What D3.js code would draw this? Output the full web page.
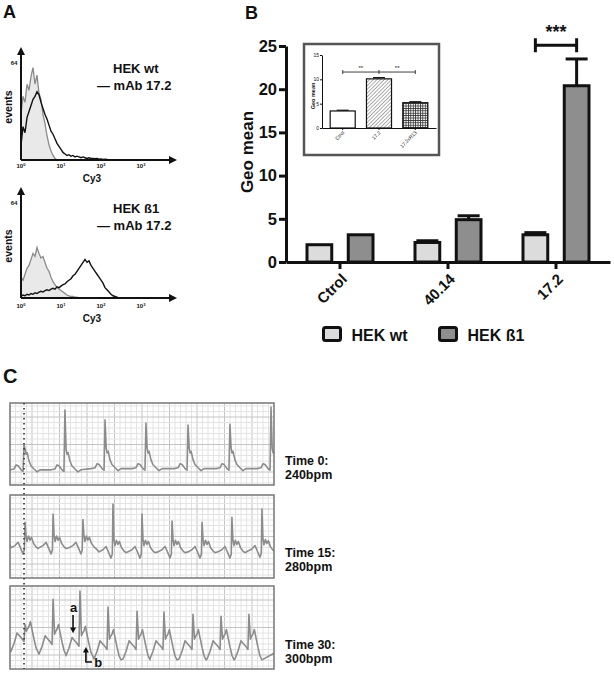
<!DOCTYPE html>
<html><head><meta charset="utf-8">
<script src="https://cdn.jsdelivr.net/npm/d3@7"></script>
<style>body{margin:0;background:#fff} svg{display:block}</style>
</head><body><svg id="fig" width="614" height="673"></svg>
<script>
// ---------------- DATA ----------------
// Panel A: flow cytometry histograms (counts per 0.05-decade bin, starting at 10^0)
const histBinDecades = 0.05;
const histTopIsotype = [30,42,38,50,46,55,61,50,56,44,40,30,24,16,10,6,3,1,0];
const histTopAb = [10,22,18,28,32,36,40,42,45,43,38,34,30,27,23,19,17,14,11,9,7,5,4,3,3.5,2.5,3,2,2.5,2,1.5,2,1.5,1,1.5,1,1,0.8,1,0.5,0.7,0.4,0.5,0.3,0];
const histBotIsotype = [14,12,16,20,22,26,30,28,34,30,27,28,24,20,18,14,11,9,7,6,5,4,3,2,1.5,1,1,0.5,0.5,0];
const histBotAb = [1,2,1.5,2.5,2,3,2.5,3.5,3,4,4.5,4,5,5.5,5,6,6.5,6,7.5,7,8,9,9.5,11,12,13,15,16,18,20,22,24,26,24,25,22,20,18,16,14,12,10,7,5.5,4,2.5,1.5,1,0.5,0];
const histTickDecades = [0,1,2,3];

// Panel B: main bar chart
const categories = ["Ctrol","40.14","17.2"];
const seriesNames = ["HEK wt","HEK ß1"];
const wtValues = [2.0, 2.26, 3.15];
const wtErrors = [0, 0.2, 0.25];
const b1Values = [3.15, 4.9, 20.4];
const b1Errors = [0, 0.45, 3.1];
const yTicks = [0,5,10,15,20,25];
const sigLevel = 25.1;

// Panel B inset
const insetCategories = ["Ctrol","17.2","17.2xR13"];
const insetValues = [3.5, 10.1, 5.2];
const insetErrors = [0.15, 0.25, 0.2];
const insetTicks = [0,5,10,15];
const insetSigLevel = 11.5;

// Panel C: ECG traces (time s, voltage mV); template [dt, v] with null = R peak
const ecgLabels = [["Time 0:","240bpm"],["Time 15:","280bpm"],["Time 30:","300bpm"]];
const ecgBeats0 = [0.085,0.333,0.576,0.824,1.079,1.333,1.582];
const ecgPeaks0 = [0.58,1.43,1.19,1.11,1.06,1.08,1.5];
const ecgBases0 = [-0.03,-0.03,0,0,0,0,0];
const ecgTpl0 = [[-0.085,0],[-0.061,0.02],[-0.048,0.12],[-0.036,0.1],[-0.018,0],[-0.006,-0.04],[0,null],[0.007,0.5],[0.013,0.38],[0.019,0.42],[0.03,0.22],[0.042,0.1],[0.061,0.02],[0.079,-0.05],[0.097,0]];
const ecgEnds0 = [[0,-0.03],[1.6,0]];

const ecgBeats1 = [0.091,0.261,0.442,0.624,0.8,0.982,1.164,1.345,1.527];
const ecgPeaks1 = [0.64,0.84,0.71,1.08,0.84,0.67,0.64,0.76,0.96];
const ecgBases1 = [0.03,0.03,0.03,-0.07,-0.07,-0.07,-0.07,-0.07,-0.05];
const ecgTpl1 = [[-0.085,0],[-0.061,0.05],[-0.042,0.13],[-0.03,0.02],[-0.012,-0.15],[-0.004,-0.05],[0,null],[0.006,0.3],[0.012,0.15],[0.021,0.28],[0.03,0.18],[0.039,0.25],[0.052,0.1],[0.067,0.02],[0.079,-0.02]];
const ecgEnds1 = [[0,0.1],[1.6,-0.05]];

const ecgBeats2 = [0.091,0.261,0.424,0.594,0.77,0.933,1.109,1.279,1.448];
const ecgPeaks2 = [0.77,1.38,1.58,1.19,1.09,1.07,1.02,0.97,1.02];
const ecgBases2 = [0.11,0.04,0,-0.08,-0.08,-0.08,-0.08,-0.08,-0.08];
const ecgTpl2 = [[-0.085,0.02],[-0.067,0.2],[-0.048,0.46],[-0.036,0.4],[-0.018,0.32],[-0.006,0.25],[0,null],[0.009,0.5],[0.015,0.56],[0.024,0.62],[0.033,0.73],[0.042,0.55],[0.055,0.3],[0.067,0.1],[0.079,0]];
const ecgEnds2 = [[0,0.12],[1.6,0.08]];

// ---------------- DRAW ----------------
const FONT = '"Liberation Sans", Arial, Helvetica, sans-serif';
const svg = d3.select("#fig").attr("font-family", FONT);
svg.append("rect").attr("width",614).attr("height",673).attr("fill","#fff");
const defs = svg.append("defs");

function label(g, x, y, txt, size, opts={}) {
  const t = g.append("text").attr("x",x).attr("y",y).text(txt)
    .attr("font-size",size).attr("font-weight", opts.weight||"bold")
    .attr("fill", opts.fill||"#111").attr("text-anchor", opts.anchor||"start");
  if (opts.rotate!==undefined) t.attr("transform",`rotate(${opts.rotate},${x},${y})`);
  return t;
}

// Panel labels
label(svg, 3, 18, "A", 18);
label(svg, 245, 19, "B", 18);
label(svg, 3, 383, "C", 20);

// ---------- Panel A ----------
function drawHist(cfg) {
  const g = svg.append("g");
  const x = d3.scaleLog().domain([1,1e4]).range([21,181]);
  const y = d3.scaleLinear().domain([0,64]).range([cfg.base, cfg.top64]);
  const binX = i => x(Math.pow(10, i*histBinDecades));
  const area = d3.area().x((d,i)=>binX(i)).y0(y(0)).y1(d=>y(d));
  const line = d3.line().x((d,i)=>binX(i)).y(d=>y(d));
  g.append("path").datum(cfg.iso).attr("d",area).attr("fill","#e9e9e9");
  g.append("path").datum(cfg.iso).attr("d",line).attr("fill","none").attr("stroke","#8a8a8a").attr("stroke-width",1.3);
  g.append("path").datum(cfg.ab).attr("d",line).attr("fill","none").attr("stroke","#111").attr("stroke-width",1.4);
  // axes with arrows
  const ax = x(1);
  g.append("line").attr("x1",ax).attr("x2",ax).attr("y1",cfg.base).attr("y2",cfg.arrowTop+6).attr("stroke","#111").attr("stroke-width",2);
  g.append("path").attr("d",`M${ax},${cfg.arrowTop}L${ax-4},${cfg.arrowTop+8}L${ax+4},${cfg.arrowTop+8}Z`).attr("fill","#111");
  g.append("line").attr("x1",ax).attr("x2",171).attr("y1",cfg.base).attr("y2",cfg.base).attr("stroke","#111").attr("stroke-width",2);
  g.append("path").attr("d",`M177,${cfg.base}L169,${cfg.base-4}L169,${cfg.base+4}Z`).attr("fill","#111");
  label(g, 14, y(64)+2, "64", 6, {anchor:"middle"});
  histTickDecades.forEach(d=>{
    const t = g.append("text").attr("x", x(Math.pow(10,d))).attr("y", cfg.tickY)
      .attr("text-anchor","middle").attr("font-size",6).attr("font-weight","bold").attr("fill","#111");
    t.append("tspan").text("10");
    t.append("tspan").text(String(d)).attr("font-size",4).attr("dy",-2.5);
  });
  label(g, 92, cfg.cyY, "Cy3", 10, {anchor:"middle"});
  label(g, 12, cfg.eventsY, "events", 10.5, {anchor:"middle", rotate:-90});
  label(g, 113, cfg.t1Y, cfg.title, 13);
  label(g, 97, cfg.t2Y, "— mAb 17.2", 13);
}
drawHist({base:160, top64:63, arrowTop:47, iso:histTopIsotype, ab:histTopAb, tickY:168, cyY:182, eventsY:107, title:"HEK wt", t1Y:73, t2Y:90});
drawHist({base:298, top64:203, arrowTop:187, iso:histBotIsotype, ab:histBotAb, tickY:308, cyY:322, eventsY:246, title:"HEK ß1", t1Y:213, t2Y:230});

// ---------- Panel B ----------
const gB = svg.append("g");
const yB = d3.scaleLinear().domain([0,25]).range([262,46]);
const xB = d3.scaleBand().domain(categories).range([286,610]);
const xSub = d3.scaleBand().domain(seriesNames).range([-33,33]).paddingInner(0.4);
const barColors = {"HEK wt":"#dcdcdc","HEK ß1":"#8e8e8e"};
const barData = categories.flatMap((c,i)=>[
  {c, s:seriesNames[0], v:wtValues[i], e:wtErrors[i]},
  {c, s:seriesNames[1], v:b1Values[i], e:b1Errors[i]}]);
const bx = d => xB(d.c)+xB.bandwidth()/2+xSub(d.s);
// error bars
barData.filter(d=>d.e>0).forEach(d=>{
  const cx = bx(d)+xSub.bandwidth()/2;
  gB.append("line").attr("x1",cx).attr("x2",cx).attr("y1",yB(d.v)).attr("y2",yB(d.v+d.e)).attr("stroke","#111").attr("stroke-width",3);
  gB.append("line").attr("x1",cx-11).attr("x2",cx+11).attr("y1",yB(d.v+d.e)).attr("y2",yB(d.v+d.e)).attr("stroke","#111").attr("stroke-width",3);
});
gB.selectAll("rect.bar").data(barData).join("rect").attr("class","bar")
  .attr("x",bx).attr("width",xSub.bandwidth())
  .attr("y",d=>yB(d.v)).attr("height",d=>yB(0)-yB(d.v))
  .attr("fill",d=>barColors[d.s]).attr("stroke","#111").attr("stroke-width",3);
// axes
const yAx = gB.append("g").attr("transform","translate(286,0)")
  .call(d3.axisLeft(yB).tickValues(yTicks).tickSize(7).tickSizeOuter(0).tickPadding(2));
const xAx = gB.append("g").attr("transform","translate(0,262)")
  .call(d3.axisBottom(xB).tickSize(7).tickSizeOuter(0).tickFormat(""));
[yAx,xAx].forEach(a=>{
  a.attr("font-family",FONT);
  a.select(".domain").attr("stroke","#111").attr("stroke-width",3);
  a.selectAll(".tick line").attr("stroke","#111").attr("stroke-width",3);
});
yAx.selectAll(".tick text").attr("font-size",16.5).attr("font-weight","bold").attr("fill","#111");
categories.forEach(c=>{
  const cx = xB(c)+xB.bandwidth()/2;
  label(gB, cx+8, 280, c, 15, {anchor:"end", rotate:-45});
});
label(gB, 253, 152, "Geo mean", 17, {anchor:"middle", rotate:-90});
// significance bracket
{
  const x1 = xB("17.2")+xB.bandwidth()/2+xSub("HEK wt")+xSub.bandwidth()/2;
  const x2 = xB("17.2")+xB.bandwidth()/2+xSub("HEK ß1")+xSub.bandwidth()/2;
  const ys = yB(sigLevel);
  gB.append("path").attr("d",`M${x1},${ys-7}V${ys+7}M${x1},${ys}H${x2}M${x2},${ys-7}V${ys+7}`)
    .attr("stroke","#111").attr("stroke-width",3).attr("fill","none");
  label(gB, (x1+x2)/2, ys-7, "***", 18, {anchor:"middle"});
}
// legend
seriesNames.forEach((s,i)=>{
  const lx = [323.5, 439.5][i];
  gB.append("rect").attr("x",lx).attr("y",327.5).attr("width",17).attr("height",13).attr("rx",2)
    .attr("fill",barColors[s]).attr("stroke","#111").attr("stroke-width",3);
  label(gB, lx+28, 341, s, 16);
});

// ---------- Inset ----------
const gI = svg.append("g");
gI.append("rect").attr("x",304).attr("y",44).attr("width",135).attr("height",111)
  .attr("fill","#fff").attr("stroke","#555").attr("stroke-width",2.5);
const hatch = defs.append("pattern").attr("id","hatch").attr("width",2.6).attr("height",2.6)
  .attr("patternUnits","userSpaceOnUse").attr("patternTransform","rotate(45)");
hatch.append("rect").attr("width",2.6).attr("height",2.6).attr("fill","#fff");
hatch.append("line").attr("x1",0).attr("y1",0).attr("x2",0).attr("y2",2.6).attr("stroke","#8a8a8a").attr("stroke-width",1.4);
const grid = defs.append("pattern").attr("id","gridp").attr("width",2.4).attr("height",2.4).attr("patternUnits","userSpaceOnUse");
grid.append("rect").attr("width",2.4).attr("height",2.4).attr("fill","#fff");
grid.append("path").attr("d","M0,0.4H2.4M0.4,0V2.4").attr("stroke","#333").attr("stroke-width",0.9);
const insetFills = ["#fff","url(#hatch)","url(#gridp)"];
const yI = d3.scaleLinear().domain([0,15]).range([128,55]);
const xI = d3.scaleBand().domain(insetCategories).range([322,436]).paddingInner(0.31).paddingOuter(0.225);
insetCategories.forEach((c,i)=>{
  const cx = xI(c)+xI.bandwidth()/2;
  gI.append("line").attr("x1",cx).attr("x2",cx).attr("y1",yI(insetValues[i])).attr("y2",yI(insetValues[i]+insetErrors[i])).attr("stroke","#111").attr("stroke-width",1.2);
  gI.append("line").attr("x1",cx-6).attr("x2",cx+6).attr("y1",yI(insetValues[i]+insetErrors[i])).attr("y2",yI(insetValues[i]+insetErrors[i])).attr("stroke","#111").attr("stroke-width",1.2);
  gI.append("rect").attr("x",xI(c)).attr("width",xI.bandwidth()).attr("y",yI(insetValues[i])).attr("height",yI(0)-yI(insetValues[i]))
    .attr("fill",insetFills[i]).attr("stroke","#111").attr("stroke-width",1.2);
  label(gI, cx+2, 133, c, 5, {anchor:"end", rotate:-45, weight:"normal"});
});
const yIA = gI.append("g").attr("transform","translate(322,0)").call(d3.axisLeft(yI).tickValues(insetTicks).tickSize(2).tickSizeOuter(0).tickPadding(1));
const xIA = gI.append("g").attr("transform","translate(0,128)").call(d3.axisBottom(xI).tickSize(2).tickSizeOuter(0).tickFormat(""));
[yIA,xIA].forEach(a=>{a.attr("font-family",FONT); a.select(".domain").attr("stroke","#111").attr("stroke-width",1); a.selectAll(".tick line").attr("stroke","#111");});
yIA.selectAll(".tick text").attr("font-size",5).attr("fill","#111");
label(gI, 315, 96, "Geo mean", 5.5, {anchor:"middle", rotate:-90});
{
  const xa = xI("Ctrol")+xI.bandwidth()/2, xm = xI("17.2")+xI.bandwidth()/2, xb = xI("17.2xR13")+xI.bandwidth()/2;
  const ys = yI(insetSigLevel);
  gI.append("path").attr("d",`M${xa},${ys-2}V${ys+2}M${xa},${ys}H${xb}M${xb},${ys-2}V${ys+2}M${xm},${ys-2}V${ys+2}`)
    .attr("stroke","#111").attr("stroke-width",0.8).attr("fill","none");
  label(gI, (xa+xm)/2, ys-2, "**", 6, {anchor:"middle", weight:"normal"});
  label(gI, (xm+xb)/2, ys-2, "**", 6, {anchor:"middle", weight:"normal"});
}

// ---------- Panel C ----------
const ecgPanels = [
  {top:403, bottom:485, dom:[-0.4,1.6], beats:ecgBeats0, peaks:ecgPeaks0, bases:ecgBases0, tpl:ecgTpl0, ends:ecgEnds0, ly:[465,479]},
  {top:495, bottom:578, dom:[-0.7,1.3], beats:ecgBeats1, peaks:ecgPeaks1, bases:ecgBases1, tpl:ecgTpl1, ends:ecgEnds1, ly:[557,571]},
  {top:586, bottom:669, dom:[-0.3,1.7], beats:ecgBeats2, peaks:ecgPeaks2, bases:ecgBases2, tpl:ecgTpl2, ends:ecgEnds2, ly:[649,663]}
];
const xC = d3.scaleLinear().domain([0,1.6]).range([10,274]);
const gC = svg.append("g");
ecgPanels.forEach((p,pi)=>{
  const yC = d3.scaleLinear().domain(p.dom).range([p.bottom,p.top]);
  const clipId = "clip"+pi;
  defs.append("clipPath").attr("id",clipId).append("rect").attr("x",10).attr("y",p.top).attr("width",264).attr("height",p.bottom-p.top);
  const g = gC.append("g").attr("clip-path",`url(#${clipId})`);
  // paper grid
  const minor = d3.range(10, 275, 5.5);
  minor.forEach((gx,k)=>{
    g.append("line").attr("x1",gx).attr("x2",gx).attr("y1",p.top).attr("y2",p.bottom)
      .attr("stroke", k%5===4 ? "#c4c4c4" : "#e4e4e4").attr("stroke-width",1);
  });
  d3.range(p.top+3, p.bottom, 5.5).forEach((gy,k)=>{
    g.append("line").attr("x1",10).attr("x2",274).attr("y1",gy).attr("y2",gy)
      .attr("stroke", k%5===2 ? "#c4c4c4" : "#e4e4e4").attr("stroke-width",1);
  });
  // trace
  const pts = [];
  if (p.ends[0][0] < p.beats[0]+p.tpl[0][0]) pts.push(p.ends[0]);
  p.beats.forEach((b,i)=>p.tpl.forEach(([dt,v])=>pts.push([b+dt, v===null ? p.peaks[i] : p.bases[i]+v])));
  if (p.ends[1][0] > pts[pts.length-1][0]) pts.push(p.ends[1]);
  g.append("path").datum(pts).attr("d",d3.line().x(d=>xC(d[0])).y(d=>yC(d[1])))
    .attr("fill","none").attr("stroke","#8c8c8c").attr("stroke-width",1.6).attr("stroke-linejoin","round");
  gC.append("rect").attr("x",10).attr("y",p.top).attr("width",264).attr("height",p.bottom-p.top)
    .attr("fill","none").attr("stroke","#777").attr("stroke-width",1.5);
  label(gC, 285, p.ly[0], ecgLabels[pi][0], 12.5);
  label(gC, 285, p.ly[1], ecgLabels[pi][1], 12.5);
  if (pi===2) {
    const ax = xC(0.376);
    label(gC, ax-2, yC(1.07), "a", 13);
    gC.append("line").attr("x1",ax+1).attr("x2",ax+1).attr("y1",yC(1.0)).attr("y2",yC(0.66)).attr("stroke","#111").attr("stroke-width",1.6);
    gC.append("path").attr("d",`M${ax+1},${yC(0.56)}L${ax-2},${yC(0.7)}L${ax+4},${yC(0.7)}Z`).attr("fill","#111");
    const bxp = xC(0.46);
    gC.append("path").attr("d",`M${bxp},${yC(0.14)}V${yC(-0.13)}H${xC(0.497)}`).attr("fill","none").attr("stroke","#111").attr("stroke-width",1.6);
    gC.append("path").attr("d",`M${bxp},${yC(0.23)}L${bxp-3},${yC(0.1)}L${bxp+3},${yC(0.1)}Z`).attr("fill","#111");
    label(gC, xC(0.51), yC(-0.25), "b", 13);
  }
});
// dotted reference line
gC.append("line").attr("x1",xC(0.085)).attr("x2",xC(0.085)).attr("y1",403).attr("y2",669)
  .attr("stroke","#444").attr("stroke-width",1.8).attr("stroke-dasharray","1.5,3.5");
</script></body></html>
